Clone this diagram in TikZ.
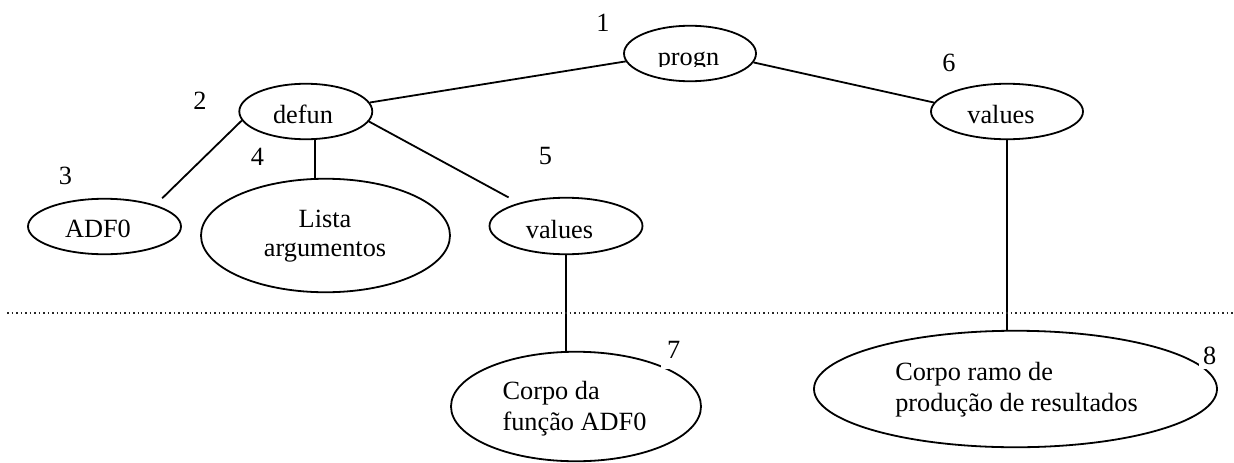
\documentclass[tikz,border=0pt]{standalone}
\usepackage{fontspec}
\setmainfont{Liberation Serif}
\usetikzlibrary{shapes.geometric}

\begin{document}
\begin{tikzpicture}[x=1pt,y=-1pt,
  oval/.style={draw, ellipse, line width=1.8pt, inner sep=0pt},
  word/.style={font=\fontsize{26.3}{30}\selectfont, inner sep=0pt},
  num/.style={font=\fontsize{26.3}{30}\selectfont, inner sep=0pt},
  edge/.style={line width=1.8pt},
  divider/.style={line width=1.4pt, dash pattern=on 1.5pt off 3pt, black!85},
]
\useasboundingbox (0,0) rectangle (1234,463);

% tree nodes
\node[oval, minimum width=132pt, minimum height=55.5pt] (progn)  at (690,53.5)   {};
\node[oval, minimum width=133pt, minimum height=55.5pt] (defun)  at (305.8,111.5) {};
\node[oval, minimum width=153pt, minimum height=55.5pt] (adf)    at (104.5,226.5) {};
\node[oval, minimum width=249pt, minimum height=113.5pt] (lista) at (325.5,235.5) {};
\node[oval, minimum width=153pt, minimum height=56.5pt] (valA)   at (566,226)  {};
\node[oval, minimum width=152pt, minimum height=55.5pt] (valB)   at (1007,111.5) {};
\node[oval, minimum width=250pt, minimum height=109.5pt] (corpoA) at (576,406.5) {};
\node[oval, minimum width=403pt, minimum height=116.5pt] (corpoB) at (1015.5,389) {};

% node texts
\begin{scope}
  \clip (640,30) rectangle (740,66);
  \node[word, anchor=base] (tprogn) at (688.5,65) {progn};
\end{scope}
\node[word, anchor=base] (tdefun) at (303,123) {defun};
\node[word, anchor=base] (tadf)   at (98,237.3) {ADF0};
\node[word, anchor=base] (tvalA)  at (559.5,238) {values};
\node[word, anchor=base] (tvalB)  at (1001,123.3) {values};
\node[word, align=center, font=\fontsize{26.3}{29}\selectfont] (tlista) at (325,236.3) {Lista\\argumentos};
\node[word, align=left, font=\fontsize{26.3}{31.3}\selectfont] (tcorpoA) at (574.5,408.7) {Corpo da\\função ADF0};
\node[word, align=left, font=\fontsize{26.3}{31.7}\selectfont] (tcorpoB) at (1016.5,389.7) {Corpo ramo de\\produção de resultados};

% connectors
\draw[edge] (progn.187.7) -- (defun.8.5);
\draw[edge] (progn.352.3) -- (valB.173);
\draw[edge, shorten >=9.5pt] (defun.188.4) -- (adf.23.6);
\draw[edge] (defun.288) -- (defun.288 |- lista.north);
\draw[edge, shorten >=11.5pt] (defun.351.5) -- (valA.154.4);
\draw[edge] (valA.south) -- (valA.south |- corpoA.north);
\draw[edge] (valB.south) -- (valB.south |- corpoB.north);

% separator
\draw[divider] (7,313) -- (1234,313);

% node numbers
\node[num] (n1) at (603,22.5) {1};
\node[num] (n2) at (200,100.5) {2};
\node[num] (n3) at (65.5,175.5) {3};
\node[num] (n4) at (257.5,156.5) {4};
\node[num] (n5) at (545.5,156) {5};
\node[num] (n6) at (949,63) {6};
\node[num, fill=white, inner xsep=6pt, text depth=10.6pt, anchor=base west] (n7) at (661,358) {7};
\node[num, fill=white, inner xsep=4pt, text depth=4.5pt, anchor=base west] (n8) at (1199,364.5) {8};
\end{tikzpicture}
\end{document}
